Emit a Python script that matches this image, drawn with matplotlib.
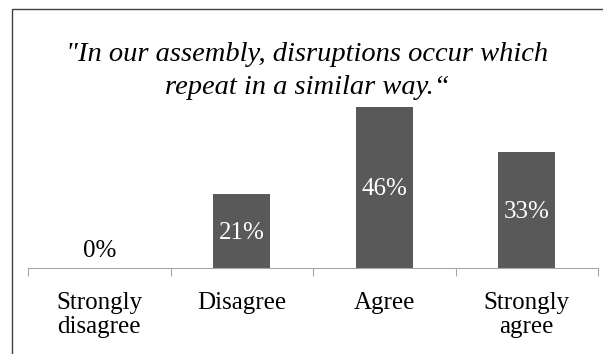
import matplotlib.pyplot as plt
from matplotlib.patches import Rectangle

categories = ["Strongly\ndisagree", "Disagree", "Agree", "Strongly\nagree"]
shares = [0, 21, 46, 33]
title = "\"In our assembly, disruptions occur which\nrepeat in a similar way.\u201c"

W, H = 603, 354
fig = plt.figure(figsize=(W / 100, H / 100), dpi=100)
plt.rcParams['font.family'] = ['Liberation Serif', 'DejaVu Serif']

# outer chart frame, clipped on the right and bottom
fig.patches.append(Rectangle((11.5 / W, -0.1), 1.2, 1 - 8.5 / H + 0.1,
                             transform=fig.transFigure, fill=False,
                             edgecolor="#404040", linewidth=1.0))

ax = fig.add_axes([28 / W, 1 - 267.7 / H, 570 / W, 175 / H])
x = range(len(categories))
bars = ax.bar(x, shares, width=0.4, color="#595959")
ax.set_xlim(-0.5, len(categories) - 0.5)
ax.set_ylim(0, 50)

for b, v in zip(bars, shares):
    cx = b.get_x() + b.get_width() / 2
    if v == 0:
        ax.text(cx, 1.5, f"{v}%", ha="center", va="bottom", fontsize=18, color="black")
    else:
        ax.text(cx, v / 2 - 0.6, f"{v}%", ha="center", va="center", fontsize=18, color="white")

for s in ["top", "right", "left"]:
    ax.spines[s].set_visible(False)
ax.spines["bottom"].set_color("#a6a6a6")
ax.set_yticks([])
ax.set_xticks([i - 0.5 for i in range(len(categories) + 1)])
ax.set_xticklabels([])
ax.tick_params(axis="x", length=6, color="#a6a6a6")
for i, c in enumerate(categories):
    ax.text(i, -6.8, c, ha="center", va="top", fontsize=18, linespacing=1.15)

fig.text(307 / W, 1 - 71 / H, title, ha="center", va="center", fontsize=20.5,
         style="italic", linespacing=1.42)

fig.savefig("out.png", dpi=100)
